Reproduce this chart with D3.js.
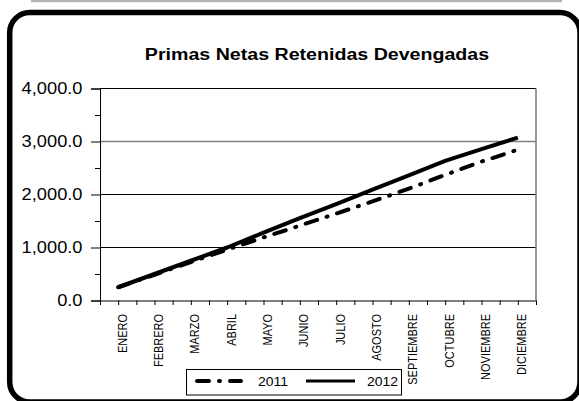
<!DOCTYPE html>
<html>
<head>
<meta charset="utf-8">
<script src="https://cdn.jsdelivr.net/npm/d3@7"></script>
<style>
  html, body { margin: 0; padding: 0; background: #fff; }
  svg { display: block; }
  text { font-family: "Liberation Sans", Arial, sans-serif; fill: #000; }
</style>
</head>
<body>
<svg id="chart" width="579" height="401"></svg>
<script>
// ---- data ----
const title = "Primas Netas Retenidas Devengadas";
const months = ["ENERO","FEBRERO","MARZO","ABRIL","MAYO","JUNIO","JULIO","AGOSTO","SEPTIEMBRE","OCTUBRE","NOVIEMBRE","DICIEMBRE"];
const seriesNames = ["2011", "2012"];
const values2011 = [250, 485, 725, 960, 1190, 1412, 1640, 1870, 2110, 2370, 2620, 2845];
const values2012 = [250, 500, 750, 1000, 1280, 1556, 1820, 2090, 2360, 2635, 2855, 3074];
const yMajorTicks = [0, 1000, 2000, 3000, 4000];
const yMinorTicks = [500, 1500, 2500, 3500];

// ---- layout ----
const svg = d3.select("#chart");
const L = 100, R = 536, T = 88.5, B = 300.5;
const DASH = "12,10,1,10";

// outer decoration
svg.append("line").attr("x1", 31).attr("x2", 562).attr("y1", 1).attr("y2", 1)
  .attr("stroke", "#b4b4b4").attr("stroke-width", 2.5);
svg.append("rect").attr("x", 9.7).attr("y", 12.5).attr("width", 570.3).attr("height", 389.5)
  .attr("rx", 20).attr("ry", 20).attr("fill", "#fff").attr("stroke", "#000").attr("stroke-width", 5.5);

// scales
const y = d3.scaleLinear().domain([0, 4000]).range([B, T]);
const x = d3.scalePoint().domain(months).range([L, R]).padding(0.5);
const xt = d3.scaleLinear().domain([0, months.length]).range([L, R]);

// title
svg.append("text").attr("transform", "translate(317,60) scale(1.14,1)")
  .attr("text-anchor", "middle").style("font-size", "17.2px").style("font-weight", "bold")
  .text(title);

// gridlines
svg.append("g").selectAll("line").data(yMajorTicks.filter(d => d > 0 && d < 4000)).join("line")
  .attr("x1", L).attr("x2", R).attr("y1", d => y(d)).attr("y2", d => y(d))
  .attr("stroke", d => d === 3000 ? "#808080" : "#000").attr("stroke-width", d => d === 3000 ? 1.5 : 1);

// plot border top/right
svg.append("line").attr("x1", L).attr("x2", R).attr("y1", T).attr("y2", T).attr("stroke", "#000");
svg.append("line").attr("x1", R).attr("x2", R).attr("y1", T).attr("y2", B)
  .attr("stroke", "#808080").attr("stroke-width", 1.6);

// y axis
svg.append("g").attr("transform", `translate(${L},0)`)
  .call(d3.axisLeft(y).tickValues(yMajorTicks).tickSize(9).tickFormat(""));
svg.append("g").attr("transform", `translate(${L},0)`)
  .call(d3.axisLeft(y).tickValues(yMinorTicks).tickSize(5).tickFormat(""))
  .select(".domain").remove();
svg.selectAll(".tick line, .domain").attr("stroke", "#000");

svg.append("g").selectAll("text").data(yMajorTicks).join("text")
  .attr("transform", d => `translate(82.5,${y(d)}) scale(1.12,1)`)
  .attr("dy", "0.36em").attr("text-anchor", "end").style("font-size", "16.3px")
  .text(d => d3.format(",.1f")(d));

// x axis
const xAxis = svg.append("g").attr("transform", `translate(0,${B})`)
  .call(d3.axisBottom(xt).tickValues(d3.range(0, months.length + 0.5, 0.5)).tickSize(4.5).tickFormat(""));
xAxis.selectAll("line, path").attr("stroke", "#000");

svg.append("g").selectAll("text").data(months).join("text")
  .attr("transform", d => `translate(${x(d) + 8.5},314) scale(1.2,1) rotate(-90)`)
  .attr("text-anchor", "end").style("font-size", "11px")
  .text(d => d);

// lines
const line = d3.line().x((d, i) => x(months[i])).y(d => y(d));
svg.append("path").datum(values2011).attr("d", line)
  .attr("fill", "none").attr("stroke", "#000").attr("stroke-width", 4)
  .attr("stroke-linecap", "round").attr("stroke-linejoin", "round").attr("stroke-dasharray", DASH);
svg.append("path").datum(values2012).attr("d", line)
  .attr("fill", "none").attr("stroke", "#000").attr("stroke-width", 4)
  .attr("stroke-linejoin", "round");

// legend
const lg = svg.append("g");
lg.append("rect").attr("x", 186.5).attr("y", 369.5).attr("width", 215).attr("height", 25.5)
  .attr("fill", "#fff").attr("stroke", "#000");
lg.append("line").attr("x1", 197).attr("x2", 241).attr("y1", 381).attr("y2", 381)
  .attr("stroke", "#000").attr("stroke-width", 4).attr("stroke-linecap", "round").attr("stroke-dasharray", DASH);
lg.append("line").attr("x1", 306).attr("x2", 355).attr("y1", 381).attr("y2", 381)
  .attr("stroke", "#000").attr("stroke-width", 3);
lg.append("text").attr("transform", "translate(258,385.5) scale(1.12,1)").style("font-size", "12.5px").text(seriesNames[0]);
lg.append("text").attr("transform", "translate(367,385.5) scale(1.12,1)").style("font-size", "12.5px").text(seriesNames[1]);
</script>
</body>
</html>
